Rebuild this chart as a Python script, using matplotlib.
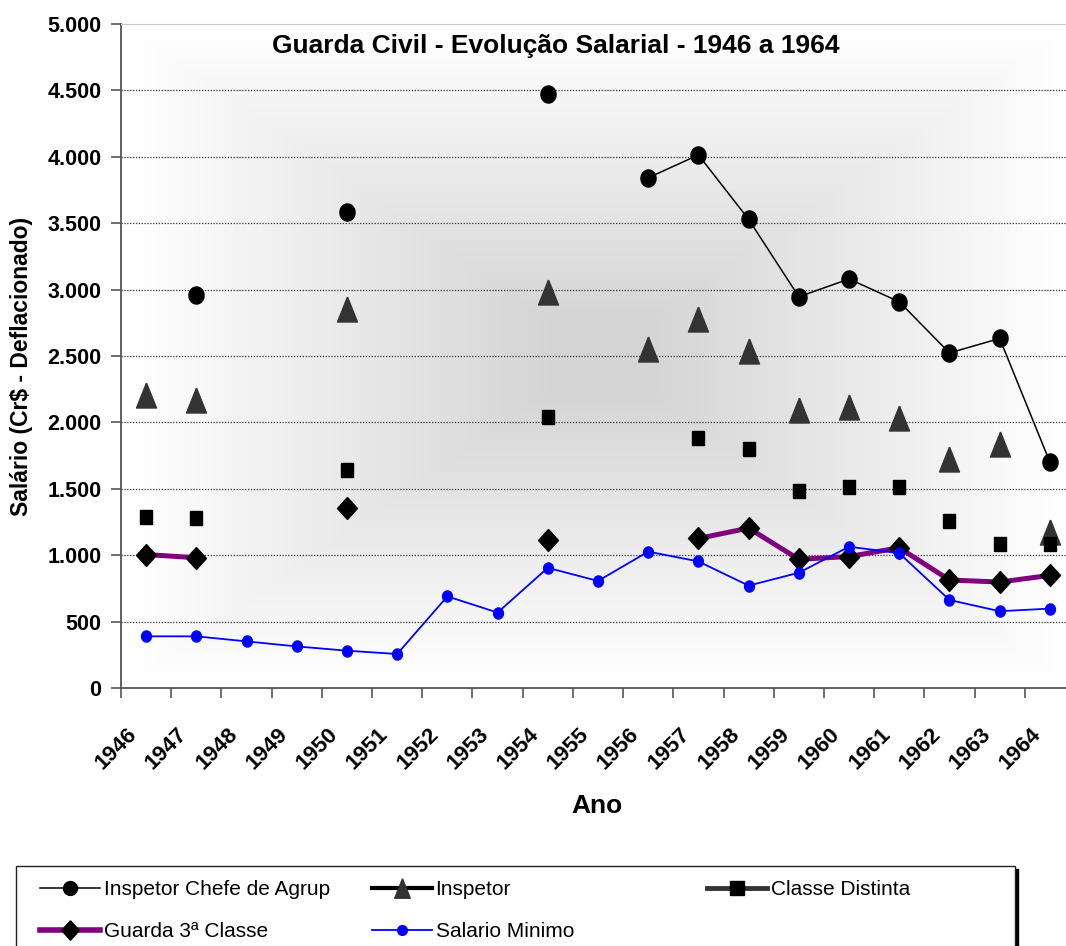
import numpy as np
import matplotlib
matplotlib.use("Agg")
import matplotlib.pyplot as plt
from matplotlib.lines import Line2D
from matplotlib.patches import Rectangle
from matplotlib.ticker import FuncFormatter, FixedLocator
from matplotlib.transforms import ScaledTranslation
from matplotlib.font_manager import FontProperties

nan = np.nan
anos = ["1946", "1947", "1948", "1949", "1950", "1951", "1952", "1953", "1954", "1955",
        "1956", "1957", "1958", "1959", "1960", "1961", "1962", "1963", "1964"]

inspetor_chefe = [nan, 2957, nan, nan, 3581, nan, nan, nan, 4472, nan,
                  3842, 4014, 3529, 2946, 3080, 2908, 2523, 2632, 1701]
inspetor = [2208, 2171, nan, nan, 2853, nan, nan, nan, 2980, nan,
            2556, 2782, 2538, 2092, 2117, 2034, 1728, 1840, 1177]
classe_distinta = [1286, 1277, nan, nan, 1641, nan, nan, nan, 2038, nan,
                   nan, 1880, 1803, 1481, 1515, 1515, 1254, 1082, 1082]
guarda_3a = [1005, 981, nan, nan, 1357, nan, nan, nan, 1116, nan,
             nan, 1126, 1204, 969, 990, 1056, 813, 798, 848]
salario_minimo = [389, 389, 351, 313, 281, 256, 690, 568, 905, 806,
                  1027, 953, 771, 868, 1064, 1015, 663, 578, 598]

labels = ["Inspetor Chefe de Agrup", "Inspetor", "Classe Distinta",
          "Guarda 3ª Classe", "Salario Minimo"]

W, H = 1066, 946
fig = plt.figure(figsize=(W / 100, H / 100), dpi=100)
fig.patch.set_facecolor("white")

def fx(px):
    return px / W

def fy(py):
    return 1 - py / H

ax = fig.add_axes([fx(121), fy(688), (1075 - 121) / W, (688 - 24) / H])
x = np.arange(len(anos))
ax.set_xlim(-0.5, len(anos) - 0.5)
ax.set_ylim(0, 5000)

# background: rectangular "from centre" gradient
n = 400
u = np.linspace(-1, 1, n)
U, V = np.meshgrid(u, u)
t = np.clip(np.maximum(np.abs(U), np.abs(V)) * 1.15 - 0.12, 0, 1)
g = 0.835 + (1 - 0.835) * t
img = np.dstack([g, g, g])
ax.imshow(img, extent=(-0.5, len(anos) - 0.5, 0, 5000), aspect="auto",
          zorder=0, interpolation="bilinear")

# markers (slightly taller than wide, like the reference)
th = np.linspace(0, 2 * np.pi, 40)
ellipse = list(zip(np.cos(th), 1.13 * np.sin(th)))
tri = [(0, 1.25), (-1, -1.25), (1, -1.25), (0, 1.25)]
sq = [(-1, -1.1), (1, -1.1), (1, 1.1), (-1, 1.1), (-1, -1.1)]
dia = [(0, 1.1), (1, 0), (0, -1.1), (-1, 0), (0, 1.1)]

ax.plot(x, inspetor_chefe, color="black", lw=1.1, marker=ellipse, ms=12.3,
        mfc="black", mec="black", zorder=3)
ax.plot(x, inspetor, ls="none", marker=tri, ms=18, mfc="#333333", mec="#333333", zorder=3)
ax.plot(x, classe_distinta, ls="none", marker=sq, ms=10, mfc="black", mec="black", zorder=3)
ax.plot(x, guarda_3a, color="#800080", lw=3.6, marker=dia, ms=15.8,
        mfc="black", mec="black", zorder=3)
ax.plot(x, salario_minimo, color="#0000ff", lw=1.3, marker=ellipse, ms=8,
        mfc="#0000ff", mec="#0000ff", zorder=4)

# grid and spines
ax.set_yticks(np.arange(0, 5001, 500))
ax.yaxis.set_major_formatter(FuncFormatter(lambda v, p: f"{int(v):,}".replace(",", ".")))
for yv in np.arange(500, 5000, 500):
    ax.axhline(yv, color="#333333", lw=0.9, ls=(0, (1, 1.3)), zorder=1)
ax.spines["top"].set_color("#c8c8c8")
ax.spines["right"].set_visible(False)
ax.spines["left"].set_color("#555555")
ax.spines["bottom"].set_color("#555555")
ax.spines["left"].set_linewidth(1.3)
ax.spines["bottom"].set_linewidth(1.3)

ax.xaxis.set_major_locator(FixedLocator(np.arange(-0.5, len(anos), 1.0)))
ax.xaxis.set_minor_locator(FixedLocator(x))
ax.set_xticklabels([])
ax.set_xticklabels(anos, minor=True)
ax.tick_params(axis="x", which="major", length=7, width=1.2, color="#555555")
ax.tick_params(axis="x", which="minor", length=0, pad=0)
ax.tick_params(axis="y", length=7, width=1.2, color="#555555", pad=7)

tick_font = dict(family="Liberation Sans", weight="bold", size=15.5)
for lab in ax.get_yticklabels():
    lab.set_fontproperties(FontProperties(**tick_font))
off = ScaledTranslation(-12 / 100, -43 / 100, fig.dpi_scale_trans)
for lab in ax.get_xticklabels(minor=True):
    lab.set_fontproperties(FontProperties(family="Liberation Sans", weight="bold", size=16))
    lab.set_rotation(45)
    lab.set_ha("right")
    lab.set_va("center")
    lab.set_rotation_mode("anchor")
    lab.set_transform(lab.get_transform() + off)

fig.text(fx(556), fy(46), "Guarda Civil - Evolução Salarial - 1946 a 1964",
         ha="center", va="center", family="Liberation Sans", weight="bold", size=19)
fig.text(fx(597), fy(806), "Ano", ha="center", va="center",
         family="Liberation Sans", weight="bold", size=19)
fig.text(fx(22), fy(366), "Salário (Cr$ - Deflacionado)", ha="center", va="center",
         rotation=90, family="Liberation Sans", weight="bold", size=16.5)

# legend box with shadow
fig.patches.append(Rectangle((fx(19), fy(960)), (1018 - 19) / W, (960 - 869) / H,
                             transform=fig.transFigure, facecolor="black",
                             edgecolor="black", zorder=0))
fig.patches.append(Rectangle((fx(16), fy(960)), (1015 - 16) / W, (960 - 866) / H,
                             transform=fig.transFigure, facecolor="white",
                             edgecolor="#222222", lw=1, zorder=1))

h_chefe = Line2D([], [], color="black", lw=1.1, marker="o", ms=10, mfc="black", mec="black")
h_insp = Line2D([], [], color="black", lw=3, marker=tri, ms=14, mfc="#333333", mec="#333333")
h_cd = Line2D([], [], color="#333333", lw=3.5, marker="s", ms=10, mfc="black", mec="black")
h_g3 = Line2D([], [], color="#800080", lw=4, marker=dia, ms=14, mfc="black", mec="black")
h_sm = Line2D([], [], color="#0000ff", lw=1.3, marker="o", ms=7, mfc="#0000ff", mec="#0000ff")

leg_font = dict(family="Liberation Sans", size=15)
cols = [([h_chefe, h_g3], [labels[0], labels[3]], 40),
        ([h_insp, h_sm], [labels[1], labels[4]], 372),
        ([h_cd], [labels[2]], 707)]
for hs, ls_, px in cols:
    lg = fig.legend(hs, ls_, loc="upper left", bbox_to_anchor=(fx(px), fy(880)),
                    bbox_transform=fig.transFigure, frameon=False, borderpad=0,
                    borderaxespad=0, handlelength=2.9, handletextpad=0.15,
                    labelspacing=1.1, prop=leg_font)
    lg.set_zorder(5)

fig.savefig("out.png", dpi=100, facecolor="white")
